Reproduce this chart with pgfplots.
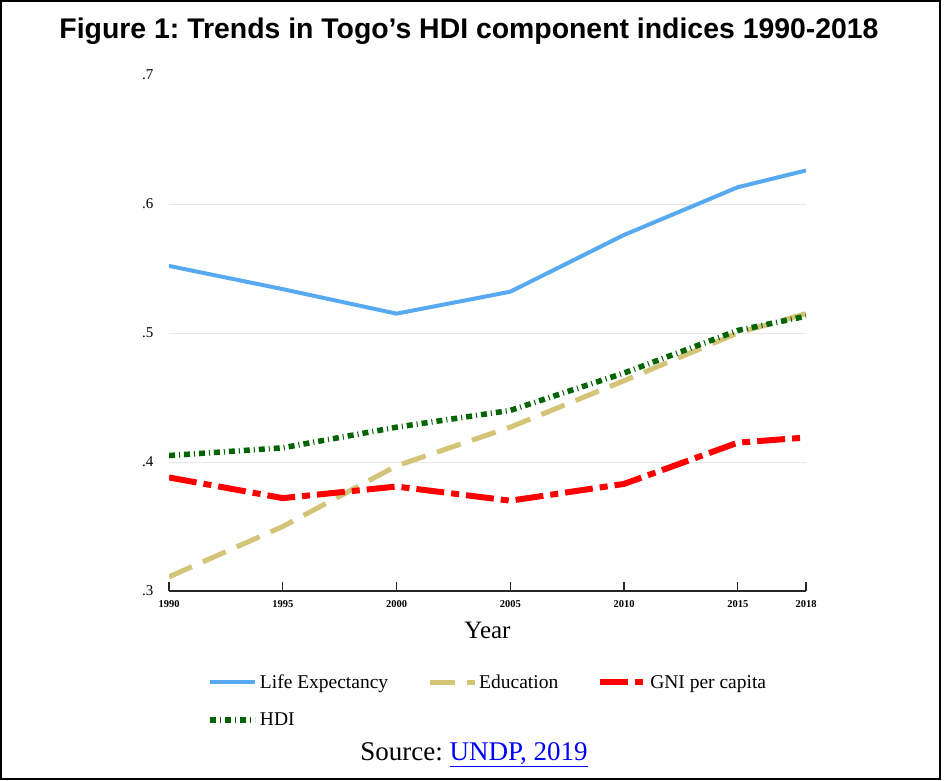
\documentclass[border=0pt]{standalone}
\usepackage{fontspec}
\setmainfont{Liberation Serif}
\newfontfamily\arialfont{Liberation Sans}
\usepackage{pgfplots}
\pgfplotsset{compat=1.18}
\definecolor{lifeblue}{RGB}{88,170,240}
\definecolor{educ}{RGB}{212,196,120}
\definecolor{gnired}{RGB}{255,0,0}
\definecolor{hdigreen}{RGB}{0,100,0}
\frenchspacing
\begin{document}
\begin{tikzpicture}
\path[use as bounding box] (0pt,0pt) rectangle (944pt,780pt);
\draw[line width=2pt] (1pt,1pt) rectangle (940pt,779pt);
\node[font=\arialfont\bfseries\fontsize{28.4}{32}\selectfont] at (469pt,749pt) {Figure 1: Trends in Togo’s HDI component indices 1990-2018};
\begin{axis}[
  at={(169pt,189pt)}, anchor=south west,
  scale only axis, width=637pt, height=516pt,
  xmin=1990, xmax=2018, ymin=0.3, ymax=0.7,
  axis x line*=bottom, axis y line*=left,
  x axis line style={-, line width=1.6pt, black!85},
  y axis line style={draw=none},
  xtick={1990,1995,2000,2005,2010,2015,2018},
  xticklabels={1990,1995,2000,2005,2010,2015,2018},
  xtick align=inside,
  x tick style={line width=1.2pt, black!85},
  major tick length=9pt,
  xticklabel style={font=\fontsize{10.5}{12}\selectfont\bfseries, yshift=-6pt},
  ytick={0.3,0.4,0.5,0.6},
  yticklabels={.3,.4,.5,.6},
  extra y ticks={0.7},
  extra y tick labels={.7},
  extra y tick style={grid=none},
  y tick style={draw=none},
  yticklabel style={font=\fontsize{15}{17}\selectfont, xshift=-12pt},
  ymajorgrids,
  major grid style={line width=0.7pt, black!9},
  xlabel={Year},
  xlabel style={font=\fontsize{25}{28}\selectfont, yshift=-8pt},
  legend columns=3,
  legend cell align=left,
  legend image code/.code={\draw[#1] plot coordinates {(0pt,0pt) (22pt,0pt) (45pt,0pt)};},
  legend style={draw=none, fill=none, at={(0.06,-0.158)}, anchor=north west,
     inner sep=0pt, font=\fontsize{19.5}{22}\selectfont, row sep=19pt,
     /tikz/every even column/.append style={column sep=37pt}},
]
\addplot[lifeblue, line width=4pt] coordinates {
 (1990,0.552) (1995,0.534) (2000,0.515) (2005,0.532) (2010,0.576) (2015,0.613) (2018,0.626)};
\addlegendentry{Life Expectancy}
\addplot[educ, line width=5pt, dash pattern=on 25pt off 12pt] coordinates {
 (1990,0.311) (1995,0.350) (2000,0.397) (2005,0.427) (2010,0.463) (2015,0.500) (2018,0.515)};
\addlegendentry{Education}
\addplot[gnired, line width=6pt, dash pattern=on 28pt off 7pt on 8pt off 7pt] coordinates {
 (1990,0.388) (1995,0.372) (2000,0.381) (2005,0.370) (2010,0.383) (2015,0.415) (2018,0.419)};
\addlegendentry{GNI per capita}
\addplot[hdigreen, line width=5.5pt, dash pattern=on 6pt off 4pt on 1pt off 4pt] coordinates {
 (1990,0.405) (1995,0.411) (2000,0.427) (2005,0.440) (2010,0.469) (2015,0.502) (2018,0.513)};
\addlegendentry{HDI}
\end{axis}
\node[font=\fontsize{27}{31}\selectfont] at (474pt,25pt) {Source: \textcolor{blue}{\underline{UNDP, 2019}}};
\end{tikzpicture}
\end{document}
